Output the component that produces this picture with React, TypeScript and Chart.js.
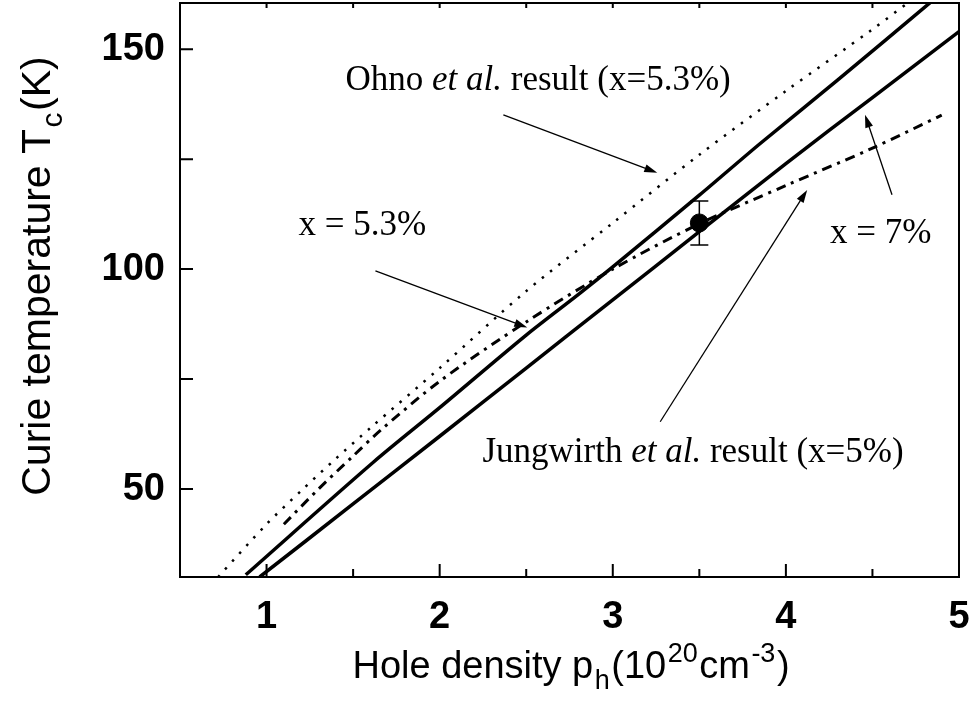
import React, { useEffect, useRef } from "react";
import { Chart, registerables } from "chart.js";

Chart.register(...registerables);

// ---- data (hole density p in 1e20 cm^-3, Curie temperature T in K) ----
const ohnoP = [0.72, 1.0, 1.2, 1.4, 1.6, 2.0, 2.5, 3.0, 3.5, 4.0, 4.5, 4.72];
const ohnoT = [30, 42, 49.6, 56.9, 63.9, 77.5, 95, 110.5, 126, 140.5, 154.5, 161];

const x53P = [0.88, 1.62, 2.0, 2.5, 2.8, 3.0, 3.5, 3.85, 4.3, 4.84];
const x53T = [30.5, 56.2, 68.5, 85, 94.2, 100.5, 116.8, 128.5, 143, 160.8];

const x7P = [0.96, 1.5, 2.0, 2.5, 3.0, 3.5, 4.0, 4.5, 5.0];
const x7T = [30, 46.6, 62, 77.5, 93, 108.5, 124, 139, 154];

const jungP = [1.1, 1.3, 1.5, 1.66, 2.0, 2.5, 3.0, 3.5, 4.0, 4.5, 4.9];
const jungT = [42, 50, 57.5, 63.4, 74.5, 88, 100, 110.3, 119, 127.5, 135];

const expP = [3.5];
const expT = [110.5];
const expErr = [5];

const xTickValues = [1, 2, 3, 4, 5];
const xMinorValues = [1.5, 2.5, 3.5, 4.5];
const yTickValues = [50, 100, 150];
const yMinorValues = [75, 125];

const notes = [
  { p: 1.456, t: 140.75, parts: [["Ohno ", false], ["et al.", true], [" result (x=5.3%)", false]] },
  { p: 1.185, t: 107.8, parts: [["x = 5.3%", false]] },
  { p: 4.255, t: 106, parts: [["x = 7%", false]] },
  { p: 2.247, t: 56.2, parts: [["Jungwirth ", false], ["et al.", true], [" result (x=5%)", false]] },
];

const arrows = [
  { from: [2.368, 135.07], to: [3.257, 121.9] },
  { from: [1.629, 99.6], to: [2.506, 86.7] },
  { from: [3.274, 65.3], to: [4.123, 118.0] },
  { from: [4.613, 116.9], to: [4.457, 135.1] },
];

const toPts = (xs: number[], ys: number[]) => xs.map((x, i) => ({ x, y: ys[i] }));

const SANS = "'Liberation Sans', Arial, sans-serif";
const SERIF = "'Liberation Serif', 'Times New Roman', serif";

const zeroPad = (s: any) => {
  s.paddingTop = 0;
  s.paddingBottom = 0;
  s.paddingLeft = 0;
  s.paddingRight = 0;
};

const decorPlugin = {
  id: "decor",
  afterDatasetsDraw(chart: any) {
    const ctx = chart.ctx as CanvasRenderingContext2D;
    const xs = chart.scales.x;
    const ys = chart.scales.y;
    const a = chart.chartArea;
    ctx.save();
    ctx.strokeStyle = "#000";
    ctx.fillStyle = "#000";

    // frame
    ctx.lineWidth = 2;
    ctx.strokeRect(a.left, a.top, a.right - a.left, a.bottom - a.top);

    // inward ticks
    ctx.lineWidth = 2;
    ctx.beginPath();
    [...xTickValues, ...xMinorValues].forEach((v) => {
      const px = xs.getPixelForValue(v);
      const len = xTickValues.includes(v) ? 13 : 8;
      ctx.moveTo(px, a.bottom);
      ctx.lineTo(px, a.bottom - len);
      ctx.moveTo(px, a.top);
      ctx.lineTo(px, a.top + 5);
    });
    [...yTickValues, ...yMinorValues].forEach((v) => {
      const py = ys.getPixelForValue(v);
      ctx.moveTo(a.left, py);
      ctx.lineTo(a.left + 13, py);
    });
    ctx.stroke();

    // error bars
    ctx.lineWidth = 1.5;
    expP.forEach((p, i) => {
      const px = xs.getPixelForValue(p);
      const top = ys.getPixelForValue(expT[i] + expErr[i]);
      const bot = ys.getPixelForValue(expT[i] - expErr[i]);
      ctx.beginPath();
      ctx.moveTo(px, top);
      ctx.lineTo(px, bot);
      ctx.moveTo(px - 9, top);
      ctx.lineTo(px + 9, top);
      ctx.moveTo(px - 9, bot);
      ctx.lineTo(px + 9, bot);
      ctx.stroke();
    });

    // arrows
    arrows.forEach((ar) => {
      const x1 = xs.getPixelForValue(ar.from[0]);
      const y1 = ys.getPixelForValue(ar.from[1]);
      const x2 = xs.getPixelForValue(ar.to[0]);
      const y2 = ys.getPixelForValue(ar.to[1]);
      const ang = Math.atan2(y2 - y1, x2 - x1);
      const hl = 13, hw = 4;
      ctx.lineWidth = 1.3;
      ctx.beginPath();
      ctx.moveTo(x1, y1);
      ctx.lineTo(x2 - Math.cos(ang) * hl * 0.8, y2 - Math.sin(ang) * hl * 0.8);
      ctx.stroke();
      ctx.beginPath();
      ctx.moveTo(x2, y2);
      ctx.lineTo(x2 - Math.cos(ang) * hl - Math.sin(ang) * hw, y2 - Math.sin(ang) * hl + Math.cos(ang) * hw);
      ctx.lineTo(x2 - Math.cos(ang) * hl + Math.sin(ang) * hw, y2 - Math.sin(ang) * hl - Math.cos(ang) * hw);
      ctx.closePath();
      ctx.fill();
    });

    // annotation texts
    ctx.textBaseline = "alphabetic";
    ctx.textAlign = "left";
    notes.forEach((n) => {
      let x = xs.getPixelForValue(n.p);
      const y = ys.getPixelForValue(n.t);
      n.parts.forEach(([txt, it]) => {
        ctx.font = (it ? "italic " : "") + "35px " + SERIF;
        ctx.fillText(txt as string, x, y);
        x += ctx.measureText(txt as string).width;
      });
    });

    // axis titles (with sub/superscripts)
    const drawRich = (segs: [string, number][], size: number, cx: number, cy: number, rot: number) => {
      ctx.save();
      ctx.translate(cx, cy);
      ctx.rotate(rot);
      const subSize = Math.round(size * 0.72);
      let total = 0;
      segs.forEach(([t, k]) => {
        ctx.font = `${k === 0 ? size : subSize}px ${SANS}`;
        total += ctx.measureText(t).width + (k === 0 ? 0 : 3);
      });
      let x = -total / 2;
      segs.forEach(([t, k]) => {
        ctx.font = `${k === 0 ? size : subSize}px ${SANS}`;
        const dy = k === 0 ? 0 : k < 0 ? size * 0.3 : -size * 0.42;
        ctx.fillText(t, x + (k === 0 ? 0 : 1.5), dy);
        x += ctx.measureText(t).width + (k === 0 ? 0 : 3);
      });
      ctx.restore();
    };
    drawRich(
      [["Hole density p", 0], ["h", -1], ["(10", 0], ["20", 1], ["cm", 0], ["-3", 1], [")", 0]],
      38,
      571,
      678,
      0
    );
    drawRich(
      [["Curie temperature T", 0], ["c", -1], ["(K)", 0]],
      41,
      50,
      276,
      -Math.PI / 2
    );
    ctx.restore();
  },
};

export default function App() {
  const ref = useRef<HTMLCanvasElement | null>(null);
  useEffect(() => {
    if (!ref.current) return;
    const lineBase = { pointRadius: 0, borderColor: "#000", fill: false, tension: 0.3 };
    const chart = new Chart(ref.current, {
      type: "line",
      data: {
        datasets: [
          { ...lineBase, label: "Ohno", data: toPts(ohnoP, ohnoT), borderWidth: 2.5, borderDash: [2.5, 8] },
          { ...lineBase, label: "x=5.3%", data: toPts(x53P, x53T), borderWidth: 3.5 },
          { ...lineBase, label: "x=7%", data: toPts(x7P, x7T), borderWidth: 3.5 },
          { ...lineBase, label: "Jungwirth", data: toPts(jungP, jungT), borderWidth: 3, borderDash: [10, 6, 3, 6] },
          {
            label: "exp",
            data: toPts(expP, expT),
            showLine: false,
            pointRadius: 9,
            pointBackgroundColor: "#000",
            pointBorderColor: "#000",
            borderColor: "#000",
          } as any,
        ],
      },
      options: {
        animation: false,
        responsive: false,
        devicePixelRatio: 1,
        layout: { autoPadding: false, padding: { left: 0, top: 3, right: 12, bottom: 0 } },
        plugins: { legend: { display: false }, tooltip: { enabled: false } },
        scales: {
          x: {
            type: "linear",
            min: 0.5,
            max: 5,
            afterBuildTicks: (s: any) => {
              s.ticks = xTickValues.map((v) => ({ value: v }));
            },
            afterFit: (s: any) => {
              s.height = 125;
              zeroPad(s);
            },
            grid: { display: false, drawTicks: false, tickLength: 0 },
            border: { display: false },
            ticks: {
              color: "#000",
              padding: 18,
              maxRotation: 0,
              font: { family: SANS, size: 38, weight: "bold" },
              callback: (v: any) => String(v),
            },
          },
          y: {
            type: "linear",
            min: 30,
            max: 160.5,
            afterBuildTicks: (s: any) => {
              s.ticks = yTickValues.map((v) => ({ value: v }));
            },
            afterFit: (s: any) => {
              s.width = 180;
              zeroPad(s);
            },
            grid: { display: false, drawTicks: false, tickLength: 0 },
            border: { display: false },
            ticks: {
              color: "#000",
              padding: 15,
              font: { family: SANS, size: 38, weight: "bold" },
              callback: (v: any) => String(v),
            },
          },
        },
      } as any,
      plugins: [decorPlugin],
    });
    return () => chart.destroy();
  }, []);
  return (
    <div style={{ position: "fixed", left: 0, top: 0, width: 971, height: 702, background: "#fff" }}>
      <canvas ref={ref} width={971} height={702} style={{ width: 971, height: 702 }} />
    </div>
  );
}
